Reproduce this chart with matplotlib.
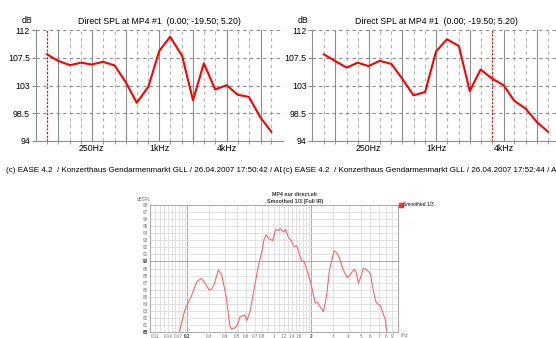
import numpy as np
import matplotlib
matplotlib.use("Agg")
from matplotlib import pyplot as plt

plt.rcParams["font.family"] = ["Liberation Sans", "DejaVu Sans"]

# third-octave bands (Hz) of the two EASE plots
bands = [100, 125, 160, 200, 250, 315, 400, 500, 630, 800, 1000, 1250,
         1600, 2000, 2500, 3150, 4000, 5000, 6300, 8000, 10000]
octaves = [125, 250, 500, 1000, 2000, 4000, 8000]
spl_left = [108.05, 107.0, 106.3, 106.7, 106.4, 106.85, 106.25, 103.6, 100.2, 102.8,
            108.6, 110.9, 107.8, 100.6, 106.6, 102.35, 103.05, 101.5, 101.15, 97.8, 95.5]
spl_right = [108.05, 107.0, 105.9, 106.7, 106.15, 107.0, 106.5, 104.1, 101.4, 101.95,
             108.5, 110.5, 109.4, 102.1, 105.6, 104.15, 103.05, 100.5, 99.25, 97.0, 95.5]
cursor_left = 100
cursor_right = 3150
y_ticks = [94, 98.5, 103, 107.5, 112]
x_ticks = [250, 1000, 4000]
x_labels = ["250Hz", "1kHz", "4kHz"]
title_top = "Direct SPL at MP4 #1  (0.00; -19.50; 5.20)"
footer_left = "(c) EASE 4.2  / Konzerthaus Gendarmenmarkt GLL / 26.04.2007 17:50:42 / AD"
footer_right = "(c) EASE 4.2  / Konzerthaus Gendarmenmarkt GLL / 26.04.2007 17:52:44 / AD"

# smoothed response (kHz, dB SPL) of the lower plot
freq_b = [0.16, 0.172, 0.191, 0.217, 0.238, 0.258, 0.272, 0.299, 0.315, 0.334, 0.356,
          0.378, 0.41, 0.428, 0.442, 0.455, 0.484, 0.506, 0.532, 0.566, 0.582, 0.603,
          0.641, 0.682, 0.75, 0.795, 0.83, 0.863, 0.9, 0.976, 1.03, 1.08, 1.13, 1.19,
          1.24, 1.30, 1.39, 1.45, 1.53, 1.59, 1.67, 1.75, 1.84, 1.95, 2.04, 2.15, 2.25,
          2.35, 2.5, 2.6, 2.67, 2.8, 3.05, 3.2, 3.37, 3.58, 3.9, 4.09, 4.45, 4.6, 4.8,
          5.0, 5.24, 5.5, 5.8, 6.0, 6.3, 6.6, 6.8, 7.2, 7.5, 7.9, 8.1, 8.3]
spl_b = [78.5, 80.0, 83.1, 85.2, 87.1, 87.6, 87.2, 85.96, 86.06, 87.1, 88.8,
         88.1, 85.2, 82.65, 80.75, 80.4, 80.6, 80.9, 82.2, 82.3, 82.4, 81.6,
         82.9, 85.5, 89.5, 91.2, 93.05, 93.76, 93.3, 92.95, 94.5, 94.4, 94.65, 94.2,
         94.55, 93.5, 92.8, 92.1, 92.2, 91.2, 90.1, 90.0, 88.8, 87.4, 85.96, 84.1, 84.2,
         83.6, 82.9, 84.3, 85.5, 88.8, 91.5, 91.25, 90.45, 89.0, 87.7, 88.1, 88.9, 88.4, 86.9,
         87.8, 89.0, 88.9, 88.55, 88.2, 86.0, 84.4, 84.0, 83.8, 82.9, 81.7, 80.0, 78.5]
b_labels = ["0.11", "0.14", "0.17", "0.2", "0.3", "0.4", "0.5", "0.6", "0.7", "0.8",
            "1", "1.2", "1.4", "1.6", "2", "3", "4", "5", "6", "7", "8", "9"]
b_ticks = [float(s) for s in b_labels]
b_grid = ([0.1 + 0.01 * i for i in range(1, 10)] + [0.1 * i for i in range(2, 10)]
          + [1 + 0.1 * i for i in range(0, 10)] + list(range(2, 11)))
b_title = "MP4 nur direct.elr\nSmoothed 1/3 (Full IR)"


def ease_plot(ax, spl, cursor):
    ax.set_xscale("log", base=2)
    ax.set_xlim(1000 * 2 ** (-11 / 3), 1000 * 2 ** (11 / 3))
    ax.set_ylim(94, 112)
    for f in bands:
        if f not in octaves:
            ax.axvline(f, color="#b4b4b4", lw=0.8, ls=(0, (3, 3)), zorder=1)
    for f in octaves:
        ax.axvline(f, color="#8c8c8c", lw=0.8, zorder=1)
    for y in y_ticks[1:]:
        ax.axhline(y, color="#8c8c8c", lw=0.8, ls=(0, (3, 3)), zorder=1, clip_on=False)
    ax.axvline(cursor, color="red", lw=0.9, ls=(0, (1.5, 1.5)), zorder=2)
    ax.plot(bands, spl, color="red", lw=1.5, zorder=3)
    for s in ["top", "right"]:
        ax.spines[s].set_visible(False)
    for s in ["left", "bottom"]:
        ax.spines[s].set_color("#8c8c8c")
        ax.spines[s].set_linewidth(0.8)
    ax.set_yticks(y_ticks)
    ax.set_yticklabels(["94", "98.5", "103", "107.5", "112"])
    ax.tick_params(axis="y", length=3, width=0.8, color="#8c8c8c", labelsize=6.3, pad=1)
    ax.set_xticks(x_ticks)
    ax.set_xticklabels(x_labels)
    ax.set_xticks(bands, minor=True)
    ax.tick_params(axis="x", which="major", length=0, labelsize=6.3, pad=2.5)
    ax.tick_params(axis="x", which="minor", length=2, width=0.6, color="#8c8c8c")
    ax.xaxis.set_minor_formatter(plt.NullFormatter())


def main():
    fig = plt.figure(figsize=(5.56, 3.38), dpi=100)
    W, H = 556.0, 338.0

    ax1 = fig.add_axes([35.5 / W, 1 - 141 / H, 247.5 / W, 111 / H])
    ease_plot(ax1, spl_left, cursor_left)
    ax2 = fig.add_axes([312.25 / W, 1 - 141 / H, 247.5 / W, 111 / H])
    ease_plot(ax2, spl_right, cursor_right)

    for xc, xd in [(159.3, 27), (436, 303)]:
        fig.text(xc / W, 1 - 21 / H, title_top, ha="center", va="center", fontsize=6.3)
        fig.text(xd / W, 1 - 20.5 / H, "dB", ha="center", va="center", fontsize=6.3)
    fig.text(6 / W, 1 - 170.5 / H, footer_left, ha="left", va="center", fontsize=5.75)
    fig.text(283 / W, 1 - 170.5 / H, footer_right, ha="left", va="center", fontsize=5.75,
             bbox=dict(facecolor="white", edgecolor="none", pad=0.5))

    ax3 = fig.add_axes([150 / W, 1 - 332 / H, 248 / W, 127 / H])
    ax3.set_xscale("log")
    ax3.set_xlim(0.1, 10)
    ax3.set_ylim(80, 98)
    for f in b_grid:
        dark = abs(f - 0.2) < 1e-6 or abs(f - 2) < 1e-6
        ax3.axvline(f, color="#9a9a9a" if dark else "#dcdcdc", lw=0.6, zorder=1)
    for y in range(81, 98):
        ax3.axhline(y, color="#9a9a9a" if y == 90 else "#dcdcdc", lw=0.6, zorder=1)
    ax3.plot(freq_b, spl_b, color="#ff6464", lw=0.8, zorder=3)
    for s in ax3.spines.values():
        s.set_color("#9a9a9a")
        s.set_linewidth(0.6)
    ax3.set_yticks(range(80, 99))
    ax3.set_yticklabels([str(v) for v in range(80, 99)])
    ax3.set_xticks(b_ticks)
    ax3.set_xticklabels(b_labels)
    ax3.xaxis.set_minor_locator(plt.NullLocator())
    ax3.tick_params(length=0, labelsize=3.3, colors="#707070", pad=1.5)
    for lab in ax3.get_xticklabels() + ax3.get_yticklabels():
        if lab.get_text() in ("0.2", "2", "90", "80"):
            lab.set_fontweight("bold")
            lab.set_color("#333333")
    ax3.text(1.01, -0.03, "kHz", transform=ax3.transAxes, fontsize=3.3, color="#707070",
             ha="left", va="center")
    ax3.text(-0.055, 1.04, "dBSPL", transform=ax3.transAxes, fontsize=3.3, color="#707070",
             ha="left", va="center")
    fig.text(295 / W, 1 - 198 / H, b_title, ha="center", va="center", fontsize=3.8,
             linespacing=1.3, fontweight="bold", color="#333333")
    ax3.plot([], [], color="#ff3030", marker="s", ls="none", ms=2.5, label="Smoothed 1/3")
    ax3.legend(loc="upper left", bbox_to_anchor=(0.998, 1.035), frameon=False, fontsize=3.5,
               handlelength=0.5, handletextpad=0.3, borderaxespad=0)

    fig.savefig("out.png", dpi=100)


if __name__ == "__main__":
    main()
